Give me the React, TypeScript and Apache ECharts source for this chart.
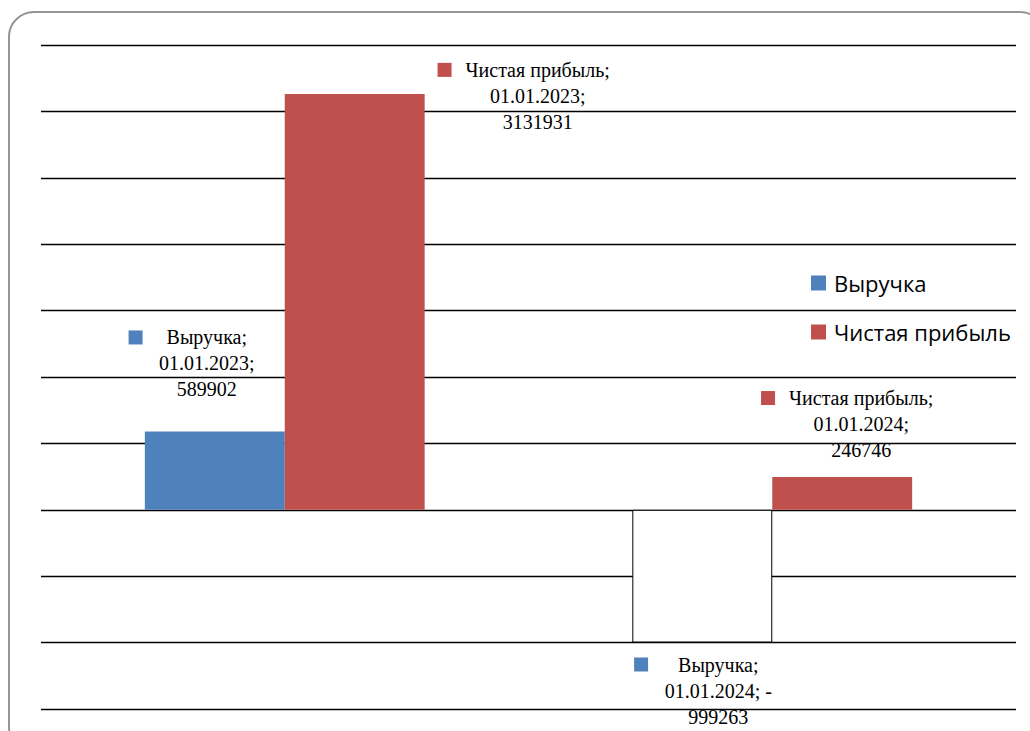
import React, { useEffect, useRef } from "react";
import * as echarts from "echarts";

const categories = ["01.01.2023", "01.01.2024"];
const seriesNames = ["Выручка", "Чистая прибыль"];
const revenue = [589902, -999263];
const netProfit = [3131931, 246746];
const yMin = -1500000;
const yMax = 3500000;
const yStep = 500000;

const BLUE = "#4F81BD";
const RED = "#C0504D";

// label placement (styling only)
const revenueLabelStyle = [
  { position: "top", offset: [-8, -24], gap: 24 },
  { position: "bottom", offset: [16, 4], gap: 30 },
];
const profitLabelStyle = [
  { position: "top", offset: [183, 46], gap: 14 },
  { position: "top", offset: [19, -9], gap: 14 },
];

const SERIF = "Liberation Serif";
const LABEL_SIZE = 20;

function buildLabel(name: string, cat: string, v: number, color: string, st: any) {
  const lines =
    v < 0 ? [`${cat}; -`, `${Math.abs(v)}`] : [`${cat};`, `${v}`];
  return {
    show: true,
    position: st.position,
    offset: st.offset,
    distance: 5,
    align: "center",
    formatter: `{sq|}{gap|}{t|${name};}{pad|}\n{t|${lines[0]}}\n{t|${lines[1]}}`,
    rich: {
      t: { fontFamily: SERIF, fontSize: LABEL_SIZE, lineHeight: 26, color: "#000" },
      sq: { width: 14, height: 14, backgroundColor: color, verticalAlign: "middle" },
      gap: { width: st.gap },
      pad: { width: 14 + st.gap },
    },
  };
}

const seriesLabel = {
  show: true,
  color: "#000",
  fontFamily: SERIF,
  fontSize: LABEL_SIZE,
  lineHeight: 26,
};

export default function App() {
  const ref = useRef<HTMLDivElement>(null);
  useEffect(() => {
    document.body.style.margin = "0";
    const chart = echarts.init(ref.current!, null, { renderer: "svg" });
    const revData = revenue.map((v, i) => ({
      value: v,
      itemStyle: v < 0 ? { color: "#ffffff", borderColor: "#000", borderWidth: 1 } : { color: BLUE },
      label: buildLabel(seriesNames[0], categories[i], v, BLUE, revenueLabelStyle[i]),
    }));
    const profData = netProfit.map((v, i) => ({
      value: v,
      label: buildLabel(seriesNames[1], categories[i], v, RED, profitLabelStyle[i]),
    }));
    chart.setOption({
      animation: false,
      backgroundColor: "#ffffff",
      graphic: [
        {
          type: "rect",
          shape: { x: 9, y: 12, width: 1036, height: 740, r: 25 },
          style: { fill: "none", stroke: "#959595", lineWidth: 2 },
          z: 100,
        },
      ],
      grid: { left: 41, right: 14, top: 45, bottom: 22, containLabel: false },
      legend: {
        orient: "vertical",
        left: 806,
        top: 266,
        itemWidth: 15,
        itemHeight: 15,
        itemGap: 25,
        icon: "rect",
        textStyle: { fontFamily: "Open Sans", fontSize: 22, color: "#000", lineHeight: 24, padding: [0, 0, 0, 3] },
        data: seriesNames,
      },
      xAxis: {
        type: "category",
        data: categories,
        axisLine: { show: false },
        axisTick: { show: false },
        axisLabel: { show: false },
        splitLine: { show: false },
      },
      yAxis: {
        type: "value",
        min: yMin,
        max: yMax,
        interval: yStep,
        axisLine: { show: false },
        axisTick: { show: false },
        axisLabel: { show: false },
        splitLine: { show: true, lineStyle: { color: "#000", width: 1.3 } },
      },
      series: [
        {
          name: seriesNames[0],
          type: "bar",
          data: revData,
          label: seriesLabel,
          itemStyle: { color: BLUE },
          barGap: "0%",
          barCategoryGap: "42.6%",
        },
        {
          name: seriesNames[1],
          type: "bar",
          data: profData,
          label: seriesLabel,
          itemStyle: { color: RED },
          barGap: "0%",
          barCategoryGap: "42.6%",
        },
      ],
    });
    return () => chart.dispose();
  }, []);
  return <div ref={ref} style={{ width: 1030, height: 731 }} />;
}
